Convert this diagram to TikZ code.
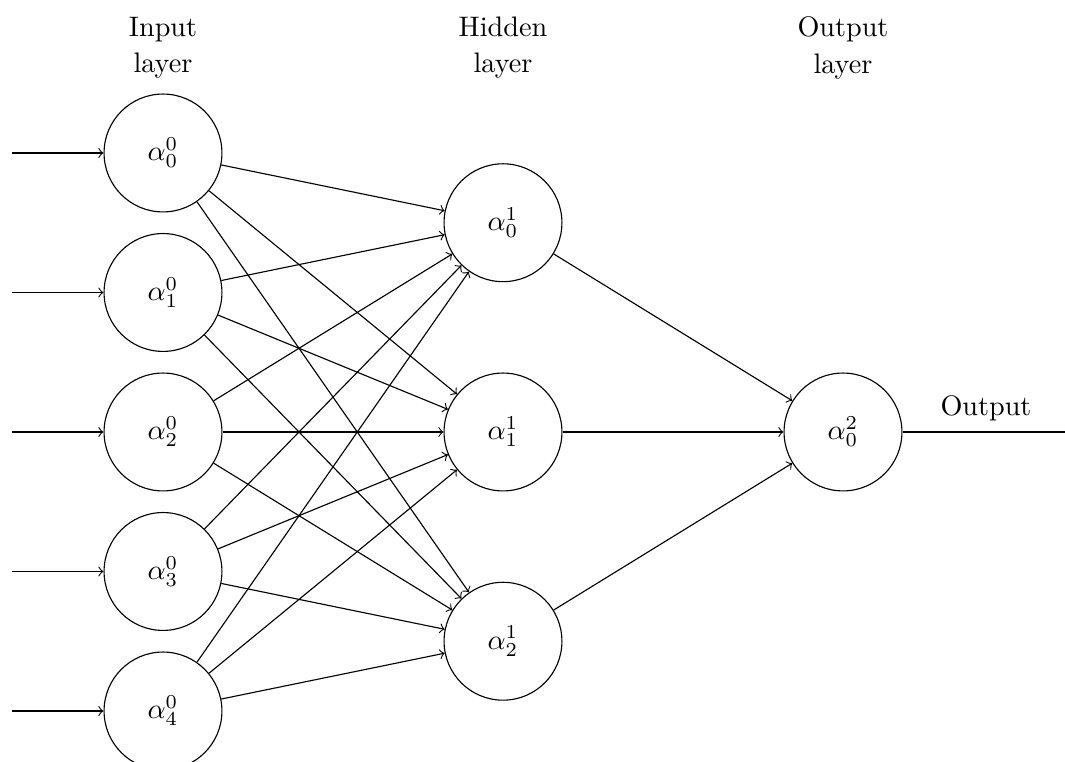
\documentclass[tikz,border=0pt]{standalone}
\begin{document}
\begin{tikzpicture}[x=0.3546pt,y=-0.3546pt,
  neuron/.style={circle,draw,minimum size=41.8pt,inner sep=0pt},
  syn/.style={->},
  lbl/.style={align=center}]
\useasboundingbox (0,0) rectangle (1065,762);

% input layer with incoming arrows
\foreach \i in {0,...,4} {
  \node[neuron] (I\i) at (163,{432+(\i-2)*139.5}) {$\alpha^0_{\i}$};
  \coordinate (in\i) at (12,{432+(\i-2)*139.5});
  \draw[syn] (in\i) -- (I\i);
}

% hidden layer
\foreach \j in {0,1,2}
  \node[neuron] (H\j) at (503,{432+(\j-1)*209.25}) {$\alpha^1_{\j}$};

% output neuron
\node[neuron] (O) at (843,432) {$\alpha^2_0$};

% connections
\foreach \i in {0,...,4}
  \foreach \j in {0,1,2}
    \draw[syn] (I\i) -- (H\j);
\foreach \j in {0,1,2}
  \draw[syn] (H\j) -- (O);

\coordinate (end) at (1065,432);
\draw (O) -- (end);
\node (outlbl) at (986,408) {Output};

% layer titles
\node[lbl] (tI) at (163,48) {Input\\[0.8pt]layer};
\node[lbl] (tH) at (503,48) {Hidden\\[0.8pt]layer};
\node[lbl] (tO) at (843,48) {Output\\[0.8pt]layer};
\end{tikzpicture}
\end{document}
